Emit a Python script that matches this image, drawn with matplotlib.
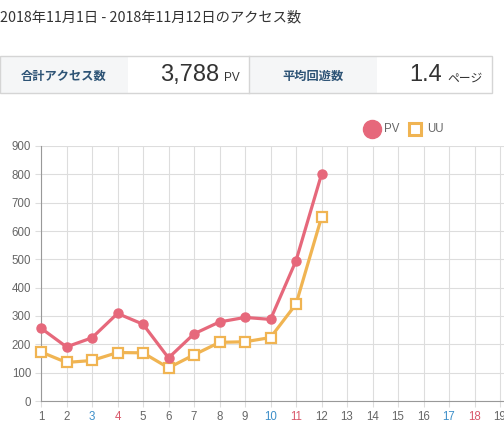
import matplotlib
matplotlib.use("Agg")
import matplotlib.pyplot as plt
from matplotlib.patches import Rectangle
from matplotlib.lines import Line2D

plt.rcParams['font.family'] = ['Liberation Sans', 'Noto Sans CJK JP', 'DejaVu Sans']

days = list(range(1, 13))
pv = [257, 191, 223, 309, 271, 152, 237, 279, 295, 288, 495, 800]
uu = [173, 136, 143, 171, 170, 117, 163, 207, 209, 224, 342, 648]
x_ticks = list(range(1, 20))
y_ticks = list(range(0, 1000, 100))
saturdays = [3, 10, 17]
sundays = [4, 11, 18]

title = "2018年11月1日 - 2018年11月12日のアクセス数"
label_total = "合計アクセス数"
value_total = "3,788"
unit_total = "PV"
label_avg = "平均回遊数"
value_avg = "1.4"
unit_avg = "ページ"

PV_COLOR = "#e6687b"
UU_COLOR = "#f0b452"
JP = ['Noto Sans CJK JP', 'DejaVu Sans']

W, H = 504, 428
fig = plt.figure(figsize=(W / 100, H / 100), dpi=100)

def fx(px):
    return px / W

def fy(py):
    return 1 - py / H

# Title
fig.text(fx(0), fy(17), title, fontsize=10.3, color="#333333", va="center", ha="left", family=JP)

# Summary box
top, bot = 56, 93
for x0, x1, col in [(0, 128, "#f5f6f7"), (128, 249, "white"), (249, 377, "#f5f6f7"), (377, 492, "white")]:
    fig.patches.append(Rectangle((fx(x0), fy(bot)), fx(x1 - x0), (bot - top) / H,
                                 transform=fig.transFigure, facecolor=col, edgecolor="none", zorder=0))
fig.patches.append(Rectangle((fx(0), fy(bot)), fx(492), (bot - top) / H, transform=fig.transFigure,
                             facecolor="none", edgecolor="#d5d5d5", linewidth=1.0, zorder=1))
fig.add_artist(Line2D([fx(249), fx(249)], [fy(bot), fy(top)], color="#d5d5d5", linewidth=1.0))

fig.text(fx(64), fy(76), label_total, fontsize=8.8, color="#2d5375", fontweight="bold",
         ha="center", va="center", family=JP)
fig.text(fx(219), fy(75), value_total, fontsize=17, color="#333333", ha="right", va="center")
fig.text(fx(224), fy(78), unit_total, fontsize=8.5, color="#333333", ha="left", va="center")
fig.text(fx(313), fy(76), label_avg, fontsize=8.8, color="#2d5375", fontweight="bold",
         ha="center", va="center", family=JP)
fig.text(fx(442), fy(75), value_avg, fontsize=17, color="#333333", ha="right", va="center")
fig.text(fx(447), fy(78), unit_avg, fontsize=8.5, color="#333333", ha="left", va="center", family=JP)

# Chart
ax_left, ax_bottom, ax_top = 41, 401, 146
ax = fig.add_axes([fx(ax_left), fy(ax_bottom), 1 - fx(ax_left), (ax_bottom - ax_top) / H])
spacing = 25.5
ax.set_xlim(1, 1 + (W - ax_left) / spacing)
ax.set_ylim(0, 900)
ax.set_xticks(x_ticks)
ax.set_yticks(y_ticks)
ax.grid(True, color="#dddddd", linewidth=0.8)
ax.set_axisbelow(True)
for s in ["top", "right"]:
    ax.spines[s].set_visible(False)
ax.spines["left"].set_color("#999999")
ax.spines["bottom"].set_color("#999999")
ax.tick_params(axis="both", length=4, color="#dddddd", labelsize=8.3, labelcolor="#666666")
ax.tick_params(axis="x", pad=3)
ax.tick_params(axis="y", pad=3)
ax.set_clip_on(False)

ax.plot(days, pv, color=PV_COLOR, linewidth=2.3, marker="o", markersize=6.5,
        markerfacecolor=PV_COLOR, markeredgecolor=PV_COLOR, zorder=4, clip_on=False)
ax.plot(days, uu, color=UU_COLOR, linewidth=2.3, marker="s", markersize=6.5,
        markerfacecolor="white", markeredgecolor=UU_COLOR, markeredgewidth=1.6, zorder=3, clip_on=False)

for lbl, t in zip(ax.get_xticklabels(), x_ticks):
    if t in saturdays:
        lbl.set_color("#3d8fc9")
    elif t in sundays:
        lbl.set_color("#d9596b")

# Legend
fig.add_artist(Line2D([fx(372)], [fy(129)], marker="o", markersize=13, color=PV_COLOR, linestyle="none"))
fig.text(fx(384), fy(129), "PV", fontsize=8.3, color="#666666", ha="left", va="center")
fig.add_artist(Line2D([fx(415)], [fy(129)], marker="s", markersize=8.5, markerfacecolor="white",
                      markeredgecolor=UU_COLOR, markeredgewidth=2.2, linestyle="none"))
fig.text(fx(427), fy(129), "UU", fontsize=8.3, color="#666666", ha="left", va="center")

fig.savefig("out.png", dpi=100)
